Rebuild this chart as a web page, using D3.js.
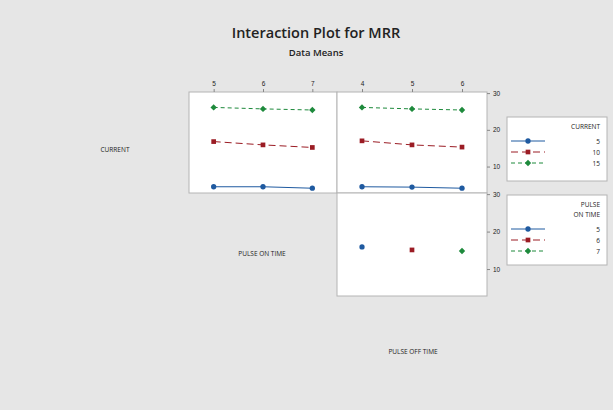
<!DOCTYPE html>
<html>
<head>
<meta charset="utf-8">
<script src="https://cdn.jsdelivr.net/npm/d3@7"></script>
<style>
  body { margin: 0; background: #e6e6e6; }
  svg { display: block; font-family: "Open Sans", "DejaVu Sans", sans-serif; }
</style>
</head>
<body>
<svg id="chart" width="613" height="410"></svg>
<script>
// levels
var currentLevels = [5, 10, 15];
var onTimeLevels = [5, 6, 7];
var offTimeLevels = [4, 5, 6];
var yTicks = [10, 20, 30];

// MRR means, one row per CURRENT level, against PULSE ON TIME
var byOnTime = [
  [4.5, 4.5, 4.1],
  [16.8, 15.9, 15.2],
  [26.1, 25.7, 25.4]
];
// MRR means, one row per CURRENT level, against PULSE OFF TIME
var byOffTime = [
  [4.5, 4.4, 4.1],
  [17.0, 15.9, 15.3],
  [26.1, 25.7, 25.4]
];
// PULSE ON TIME vs PULSE OFF TIME: only one cell per level
var onOffPoints = [
  { on: 5, off: 4, mrr: 15.9 },
  { on: 6, off: 5, mrr: 15.1 },
  { on: 7, off: 6, mrr: 14.8 }
];

var colors = ["#1f5aa0", "#9b1c24", "#1e8a3c"];
var dashes = [null, "7,4", "4,3"];
var symbols = [d3.symbolCircle, d3.symbolSquare, d3.symbolDiamond2];
var symSize = [22, 22, 26];

var svg = d3.select("#chart");

svg.append("text").attr("x", 316).attr("y", 38)
  .attr("text-anchor", "middle").style("font-size", "14.5px").style("font-weight", "600")
  .attr("fill", "#222").text("Interaction Plot for MRR");
svg.append("text").attr("x", 316).attr("y", 56)
  .attr("text-anchor", "middle").style("font-size", "9.5px").style("font-weight", "600")
  .attr("fill", "#222").text("Data Means");

var x1 = d3.scaleLinear().domain([4.5, 7.5]).range([189, 337]);
var x2 = d3.scaleLinear().domain([3.5, 6.5]).range([337, 487]);
var yTop = d3.scaleLinear().domain([2.8, 30.3]).range([193, 92]);
var yBot = d3.scaleLinear().domain([2.8, 30.3]).range([296, 193]);

function panel(x, y) {
  var r = x.range(), s = y.range();
  svg.append("rect").attr("x", r[0]).attr("y", s[1])
    .attr("width", r[1] - r[0]).attr("height", s[0] - s[1])
    .attr("fill", "#fff").attr("stroke", "#b4b4b4").attr("stroke-width", 1);
}
panel(x1, yTop);
panel(x2, yTop);
panel(x2, yBot);

// top axes
function topAxis(x, vals) {
  var g = svg.append("g").attr("transform", "translate(0,92)")
    .call(d3.axisTop(x).tickValues(vals).tickSize(3).tickFormat(d3.format("d")));
  g.select(".domain").remove();
  g.selectAll("line").attr("stroke", "#888");
  g.selectAll("text").style("font-size", "6.5px").attr("fill", "#222");
}
topAxis(x1, onTimeLevels);
topAxis(x2, offTimeLevels);

// right axes
function rightAxis(y) {
  var g = svg.append("g").attr("transform", "translate(487,0)")
    .call(d3.axisRight(y).tickValues(yTicks).tickSize(3).tickFormat(d3.format("d")));
  g.select(".domain").remove();
  g.selectAll("line").attr("stroke", "#888");
  g.selectAll("text").style("font-size", "6.5px").attr("fill", "#222").attr("x", 6);
}
rightAxis(yTop);
rightAxis(yBot);

function drawSeries(x, y, xs, vals, i) {
  var pts = xs.map(function (v, j) { return [x(v), y(vals[j])]; });
  svg.append("path").attr("d", d3.line()(pts))
    .attr("fill", "none").attr("stroke", colors[i]).attr("stroke-width", 1)
    .attr("stroke-dasharray", dashes[i]);
  pts.forEach(function (p) {
    svg.append("path").attr("d", d3.symbol().type(symbols[i]).size(symSize[i])())
      .attr("transform", "translate(" + p[0] + "," + p[1] + ")")
      .attr("fill", colors[i]);
  });
}
currentLevels.forEach(function (c, i) {
  drawSeries(x1, yTop, onTimeLevels, byOnTime[i], i);
  drawSeries(x2, yTop, offTimeLevels, byOffTime[i], i);
});
onOffPoints.forEach(function (d) {
  var i = onTimeLevels.indexOf(d.on);
  svg.append("path").attr("d", d3.symbol().type(symbols[i]).size(symSize[i])())
    .attr("transform", "translate(" + x2(d.off) + "," + yBot(d.mrr) + ")")
    .attr("fill", colors[i]);
});

// factor labels
function label(x, y, t) {
  svg.append("text").attr("x", x).attr("y", y).attr("text-anchor", "middle")
    .style("font-size", "6.5px").attr("fill", "#222").text(t);
}
label(115, 152, "CURRENT");
label(262, 256, "PULSE ON TIME");
label(413, 354, "PULSE OFF TIME");

// legends
function legend(top, h, title, levels) {
  var g = svg.append("g");
  g.append("rect").attr("x", 507).attr("y", top).attr("width", 100).attr("height", h)
    .attr("fill", "#fff").attr("stroke", "#b4b4b4");
  title.forEach(function (t, k) {
    g.append("text").attr("x", 600).attr("y", top + 12 + k * 10).attr("text-anchor", "end")
      .style("font-size", "6.5px").attr("fill", "#222").text(t);
  });
  var y0 = top + 12 + title.length * 10 + 2;
  levels.forEach(function (v, i) {
    var yy = y0 + i * 11;
    g.append("line").attr("x1", 511).attr("x2", 545).attr("y1", yy).attr("y2", yy)
      .attr("stroke", colors[i]).attr("stroke-dasharray", dashes[i]);
    g.append("path").attr("d", d3.symbol().type(symbols[i]).size(symSize[i])())
      .attr("transform", "translate(528," + yy + ")").attr("fill", colors[i]);
    g.append("text").attr("x", 600).attr("y", yy + 2.5).attr("text-anchor", "end")
      .style("font-size", "6.5px").attr("fill", "#222").text(v);
  });
}
legend(117, 64, ["CURRENT"], currentLevels);
legend(195, 70, ["PULSE", "ON TIME"], onTimeLevels);
</script>
</body>
</html>
